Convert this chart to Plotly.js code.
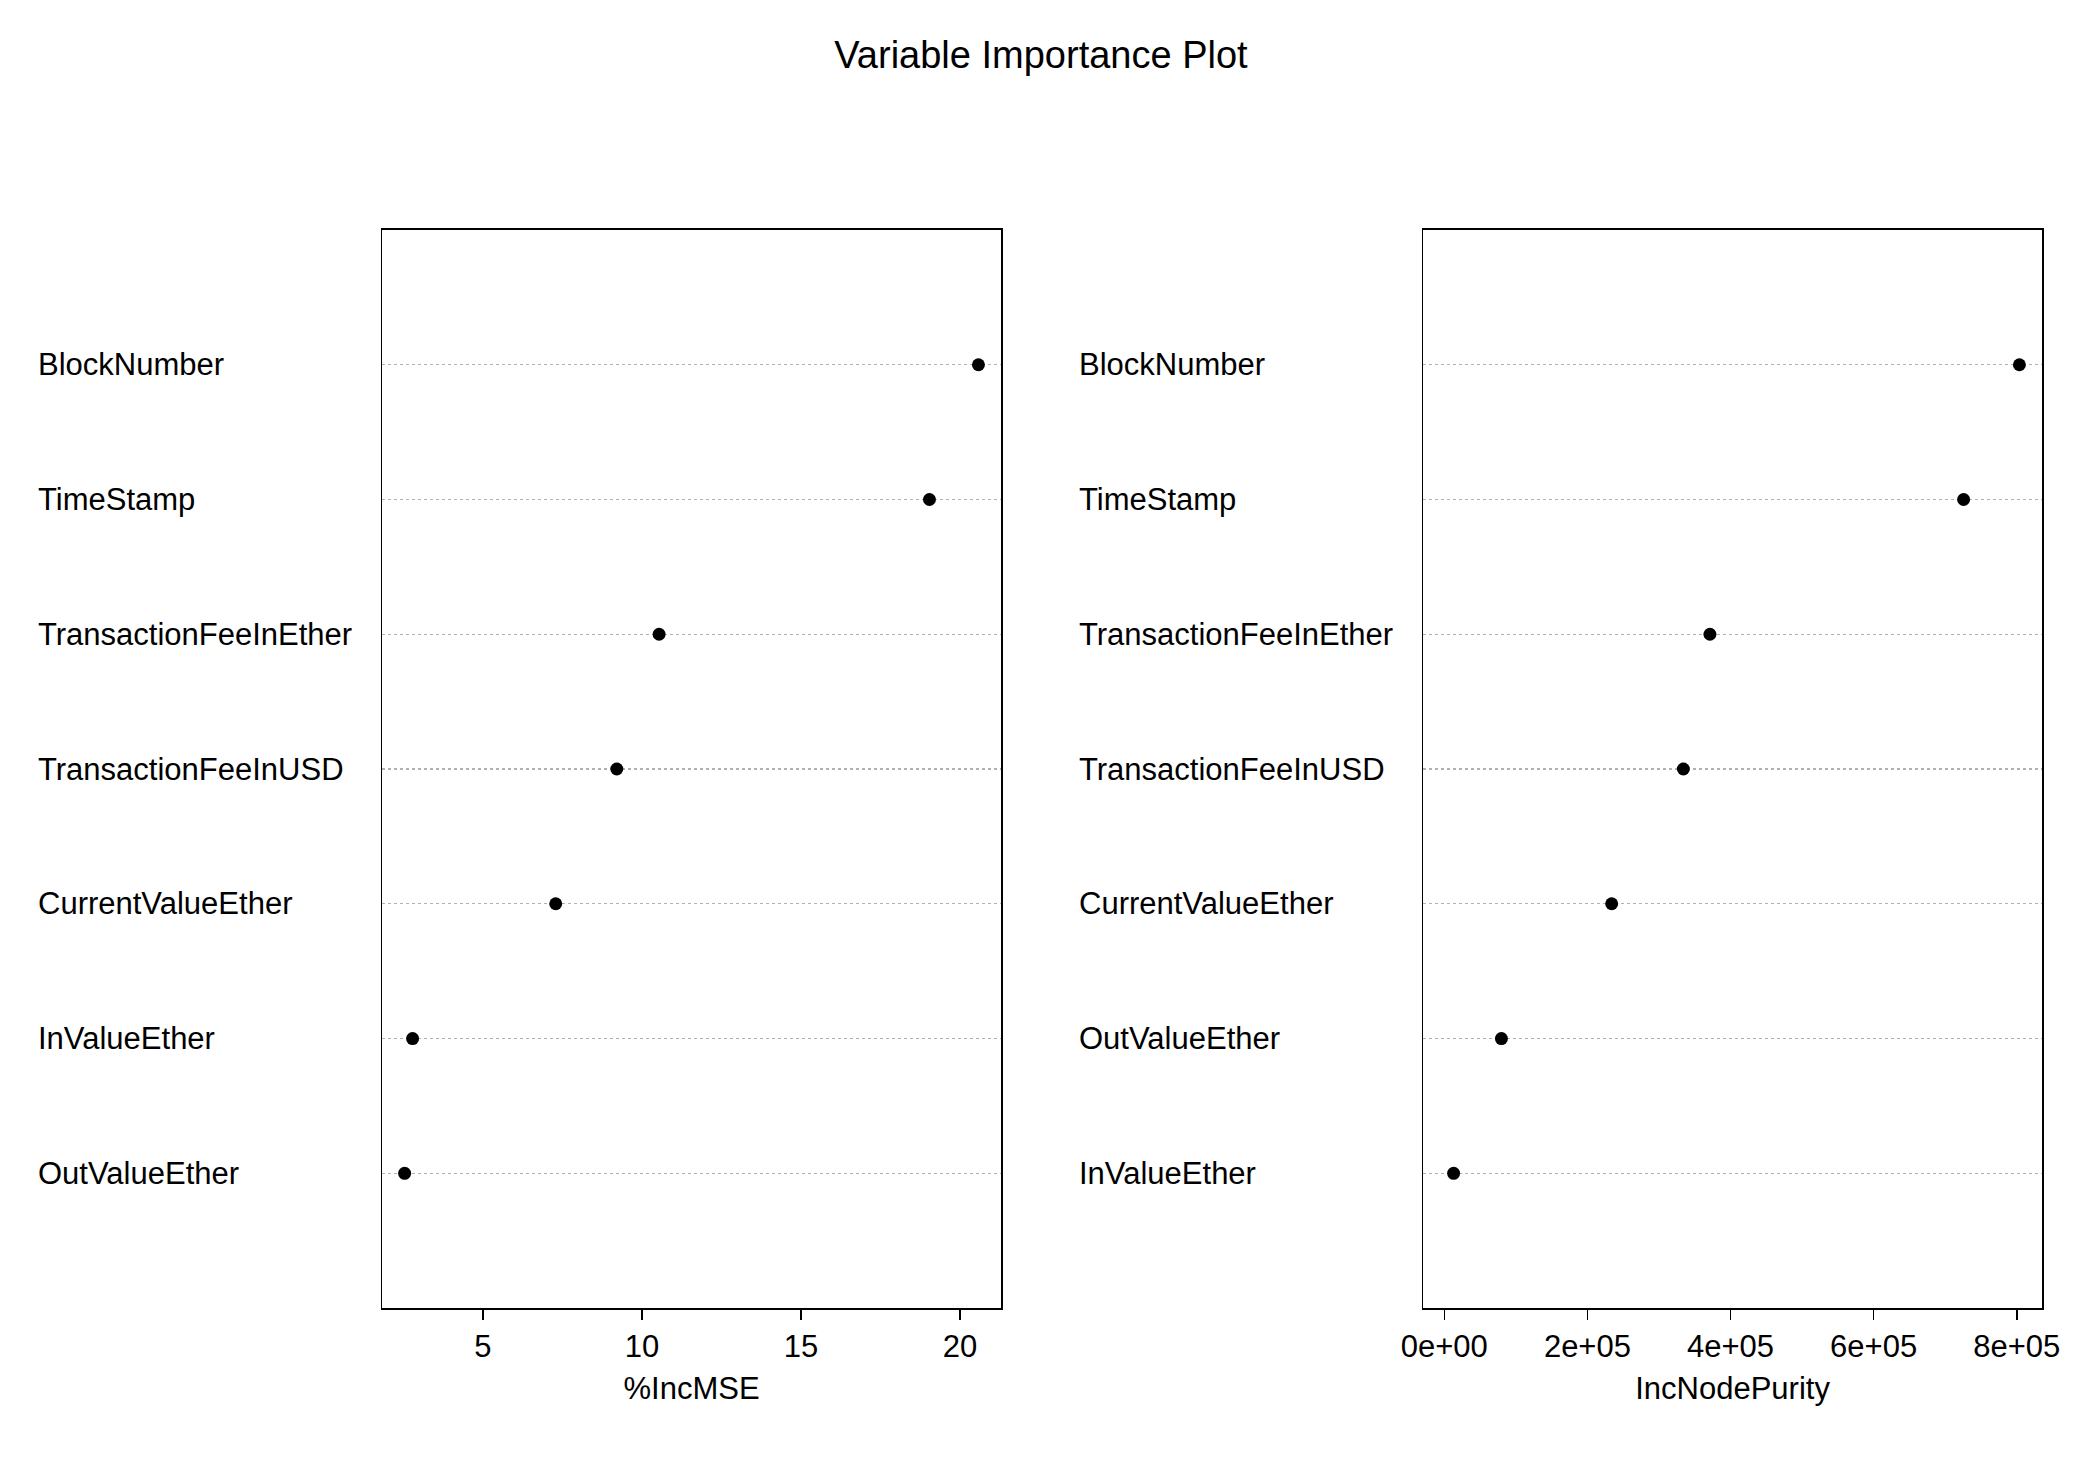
<html><head><script src="https://cdn.plot.ly/plotly-3.0.1.min.js"></script></head><body style="margin:0">
<div id="g" style="width:2082px;height:1462px"></div>
<script>
const mseLabels = ["OutValueEther","InValueEther","CurrentValueEther","TransactionFeeInUSD","TransactionFeeInEther","TimeStamp","BlockNumber"];
const mseValues = [2.54,2.79,7.29,9.21,10.54,19.04,20.58];
const purLabels = ["InValueEther","OutValueEther","CurrentValueEther","TransactionFeeInUSD","TransactionFeeInEther","TimeStamp","BlockNumber"];
const purValues = [13000,79800,233900,334100,371200,725700,803700];
const rows = [1,2,3,4,5,6,7];
const F = "Liberation Sans, Arial, sans-serif";
const mk = {color:"black",size:13};
const data = [
 {x:mseValues,y:rows,mode:"markers",marker:mk,xaxis:"x",yaxis:"y",type:"scatter"},
 {x:purValues,y:rows,mode:"markers",marker:mk,xaxis:"x2",yaxis:"y2",type:"scatter"}
];
const ann = [];
mseLabels.forEach((l,i)=>ann.push({text:l,x:0.0175,xref:"paper",y:rows[i],yref:"y",xanchor:"left",showarrow:false,font:{size:31,family:F,color:"black"}}));
purLabels.forEach((l,i)=>ann.push({text:l,x:0.5175,xref:"paper",y:rows[i],yref:"y2",xanchor:"left",showarrow:false,font:{size:31,family:F,color:"black"}}));
const yax = d=>({domain:[0.1053,0.8427],range:[0,8],tickvals:rows,showticklabels:false,ticks:"",showgrid:true,gridcolor:"#b0b0b0",griddash:"dot",gridwidth:1.3,zeroline:false,showline:true,mirror:true,linecolor:"black",linewidth:1.5});
const xax = (d,r,tv,tt,title)=>({domain:d,range:r,tickvals:tv,ticktext:tt,ticks:"outside",ticklen:10,tickwidth:1.5,tickcolor:"black",showgrid:false,zeroline:false,showline:true,mirror:true,linecolor:"black",linewidth:1.5,tickfont:{size:31,family:F,color:"black"},title:{text:title,font:{size:31,family:F,color:"black"},standoff:14}});
const layout = {
 width:2082,height:1462,showlegend:false,paper_bgcolor:"white",plot_bgcolor:"white",
 margin:{l:0,r:0,t:0,b:0},
 title:{text:"Variable Importance Plot",x:0.5,y:0.972,xanchor:"center",font:{size:38,family:F,color:"black"}},
 xaxis:xax([0.1835,0.4808],[1.83,21.29],[5,10,15,20],["5","10","15","20"],"%IncMSE"),
 xaxis2:xax([0.6835,0.9808],[-29700,835300],[0,200000,400000,600000,800000],["0e+00","2e+05","4e+05","6e+05","8e+05"],"IncNodePurity"),
 yaxis:Object.assign(yax(),{anchor:"x"}),
 yaxis2:Object.assign(yax(),{anchor:"x2"}),
 annotations:ann
};
layout.xaxis.anchor="y"; layout.xaxis2.anchor="y2";
Plotly.newPlot("g",data,layout,{staticPlot:true});
</script></body></html>
